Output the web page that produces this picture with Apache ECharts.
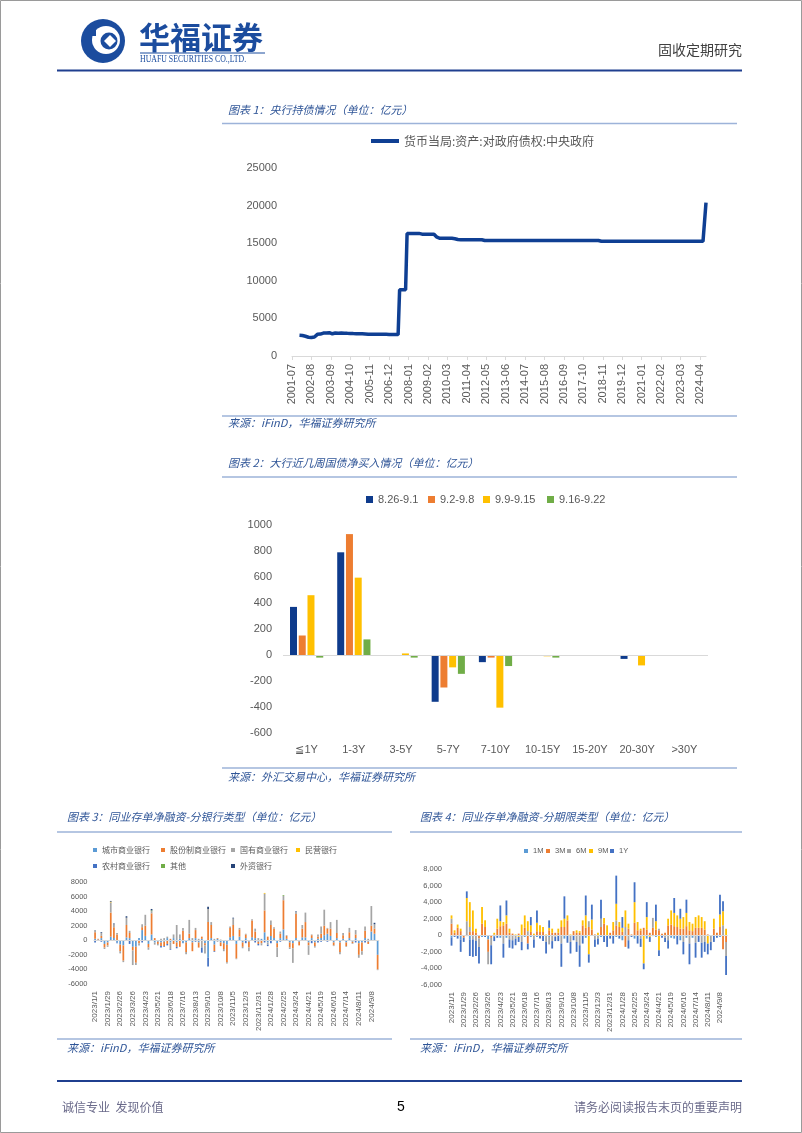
<!DOCTYPE html>
<html><head><meta charset="utf-8">
<script src="https://cdn.jsdelivr.net/npm/echarts@6/dist/echarts.min.js"></script>
<style>html,body{margin:0;padding:0;background:#fff}#page{width:802px;height:1133px}</style>
</head><body><div id="page"></div>
<script>
// ---------- Chart 1: central bank holdings (monthly, 2001-07 .. 2024-08) ----------
const cbName = '货币当局:资产:对政府债权:中央政府';
const cbHold = [
  null,null,null,null,null,2750,
  2740,2720,2680,2620,2560,2500,2450,2460,2480,2520,2700,2880,
  2900,2920,2950,3050,3060,3060,3080,3100,3050,2950,2980,3050,
  3050,3040,3020,3050,3040,3030,3020,3010,3000,3000,2990,2980,
  2980,2970,2970,2960,2950,2950,2940,2930,2920,2900,2900,2890,
  2890,2890,2880,2880,2880,2880,2880,2880,2880,2880,2870,2870,
  2870,2860,2850,2850,2850,2850,8800,8800,8800,8800,8800,16300,
  16300,16300,16300,16300,16300,16300,16300,16300,16200,16200,16200,16200,
  16200,16200,16200,16200,16200,16200,16000,15800,15700,15650,15650,15650,
  15650,15650,15650,15650,15650,15650,15650,15600,15550,15500,15450,15450,
  15450,15450,15450,15450,15450,15450,15450,15450,15450,15450,15450,15450,
  15450,15450,15400,15350,15350,15350,15350,15350,15350,15350,15350,15350,
  15350,15350,15350,15350,15350,15350,15350,15350,15350,15350,15350,15350,
  15350,15350,15350,15350,15350,15350,15350,15350,15350,15350,15350,15350,
  15350,15350,15350,15350,15350,15350,15350,15350,15350,15350,15350,15350,
  15350,15350,15350,15350,15350,15350,15350,15350,15350,15350,15350,15350,
  15350,15350,15350,15350,15350,15350,15350,15350,15350,15350,15350,15350,
  15350,15350,15350,15350,15350,15350,15350,15350,15250,15250,15250,15250,
  15250,15250,15250,15250,15250,15250,15250,15250,15250,15250,15250,15250,
  15250,15250,15250,15250,15250,15250,15250,15250,15250,15250,15250,15250,
  15250,15250,15250,15250,15250,15250,15250,15250,15250,15250,15250,15250,
  15250,15250,15250,15250,15250,15250,15250,15250,15250,15250,15250,15250,
  15250,15250,15250,15250,15250,15250,15250,15250,15250,15250,15250,15250,
  15250,15250,15250,15250,15250,15250,15250,20400
];
const months = [];
for (let y = 2001, m = 7; months.length < cbHold.length; m++) {
  if (m > 12) { m = 1; y++; }
  months.push(y + '-' + String(m).padStart(2, '0'));
}

// ---------- Chart 2: big banks weekly net buying by tenor ----------
const tenors = ['≦1Y','1-3Y','3-5Y','5-7Y','7-10Y','10-15Y','15-20Y','20-30Y','>30Y'];
const weekNames = ['8.26-9.1','9.2-9.8','9.9-9.15','9.16-9.22'];
const wk1 = [370, 790, -3, -360, -55, 0, 0, -30, 0];
const wk2 = [150, 930, -5, -250, -20, 0, -5, 0, 0];
const wk3 = [460, 595, 12, -95, -405, -10, 0, -80, 0];
const wk4 = [-20, 120, -20, -145, -85, -20, 0, 0, 0];

// ---------- weekly categories 2023/1/1 .. 2024/9/22 ----------
const weeks = [];
for (let d = new Date(2023, 0, 1); weeks.length < 91; d.setDate(d.getDate() + 7)) {
  weeks.push(d.getFullYear() + '/' + (d.getMonth() + 1) + '/' + d.getDate());
}

// ---------- Chart 3: NCD net financing by bank type ----------
const bankNames = ['城市商业银行','股份制商业银行','国有商业银行','民营银行','农村商业银行','其他','外资银行'];
const csBank = [200,100,300,-500,-300,500,300,-300,-600,-700,
  400,300,-900,-900,300,1400,600,-500,800,-300,
  -200,-300,-200,300,-300,300,-300,200,-400,-300,
  300,-300,300,-300,200,-400,-2400,300,-600,200,
  -300,-400,-600,400,600,-500,500,-300,300,-200,
  400,300,-200,200,1100,-300,600,300,-400,300,
  1500,200,-300,-400,300,-200,400,400,-300,300,
  -300,200,300,700,900,600,-300,300,-300,200,
  -300,300,-200,300,-400,-300,300,-200,1200,900,
  -2000];
const gfBank = [900,100,300,-500,-400,3300,1500,800,-900,-2100,
  1700,700,-500,-2200,-400,400,1400,-500,2900,300,
  -300,-500,-600,-500,200,-500,-600,-900,1300,-1300,
  600,-1200,1100,-700,300,-300,2500,1800,-900,100,
  -500,-800,-2400,1300,1500,-2000,1000,-600,500,-800,
  2300,900,-300,-400,3000,500,1500,1300,-600,600,
  4000,400,-700,-700,3300,-500,1200,2100,-400,400,
  -500,300,600,1300,700,1000,-400,700,-1300,500,
  -500,800,-200,500,-1600,-1200,1000,-300,800,700,
  -2000];
const gyBank = [300,-100,400,-200,-200,1400,400,200,-300,-200,
  1000,300,-2000,-300,-300,400,1500,-300,300,-300,
  -200,200,300,200,-900,500,2100,600,400,-300,
  1900,300,300,200,-1000,-1100,1800,400,200,-200,
  100,-300,-200,200,900,-100,200,-200,100,-500,
  200,400,300,-300,2300,-300,600,200,-1300,300,
  600,100,-200,-2000,300,0,500,1300,-1300,100,
  -200,300,1000,2200,100,900,-100,1800,-300,300,
  -100,600,-100,600,-400,-500,600,200,2700,600,
  -100];
const msBank = [0,0,0,0,0,100,0,0,0,0,
  0,0,0,0,0,0,0,0,0,0,
  0,0,0,0,0,0,0,0,0,0,
  0,0,0,0,0,0,0,0,0,0,
  0,0,0,0,0,0,0,0,0,0,
  0,0,0,0,100,0,0,0,0,0,
  0,0,0,0,0,0,0,0,0,0,
  0,0,0,0,0,0,0,0,0,0,
  0,0,0,0,0,0,0,0,0,0,
  0];
const ncBank = [-300,0,-200,0,0,0,-100,-100,0,0,
  0,-500,0,0,0,-300,0,0,0,0,
  0,-200,-100,-200,-100,0,-200,0,0,0,
  0,0,-200,0,-700,0,-1200,0,-100,0,
  0,0,0,0,0,0,0,0,-400,0,
  0,-300,-200,0,-300,-200,-400,0,0,-200,
  0,0,0,0,0,0,0,0,0,-400,
  0,-300,-200,0,-200,0,0,0,0,0,
  0,0,0,-300,0,0,-300,0,0,0,
  0];
const qtBank = [0,0,0,0,0,0,0,0,0,0,
  0,0,0,0,0,0,0,0,100,0,
  0,0,0,0,0,0,0,0,0,0,
  0,0,0,0,0,0,0,0,0,0,
  0,0,0,0,0,0,0,0,0,0,
  0,0,0,0,0,0,0,0,0,0,
  100,0,0,0,0,0,0,0,0,0,
  0,0,0,0,0,0,0,0,0,0,
  0,0,0,0,0,0,0,0,0,0,
  0];
const wzBank = [0,0,100,0,0,100,100,0,0,0,
  200,0,0,0,0,0,0,0,200,0,
  0,0,0,0,0,0,0,0,0,0,
  0,0,0,0,0,0,300,0,0,0,
  0,0,0,0,100,0,0,0,0,0,
  0,0,0,0,0,0,0,0,0,0,
  0,0,0,0,100,0,0,0,0,0,
  0,0,0,0,0,0,0,0,0,0,
  0,0,0,0,0,0,0,0,0,200,
  0];

// ---------- Chart 4: NCD net financing by tenor ----------
const termNames = ['1M','3M','6M','9M','1Y'];
const t1M = [-250,0,0,-500,0,-100,-500,0,0,0,
  -200,0,-500,0,-200,0,-300,0,-300,0,
  0,0,0,0,-200,0,-200,0,-200,0,
  0,0,-200,0,0,0,0,-400,0,0,
  0,0,0,0,-300,0,0,0,0,-200,
  0,0,0,0,-200,0,-600,0,0,0,
  -400,0,0,0,-400,0,-100,-200,0,0,
  0,0,-300,-400,0,-600,0,-300,0,-300,
  0,0,0,0,0,0,0,0,-200,0,
  0];
const t3M = [1400,300,900,500,-300,0,400,500,300,-400,
  1400,1000,-1500,-300,100,800,1100,1200,1400,300,
  200,0,200,0,900,-1000,400,0,500,400,
  400,0,600,300,300,300,1000,1000,1800,0,
  500,300,300,1200,900,1000,700,100,0,1000,
  1400,0,300,600,1200,1000,400,-1400,800,100,
  1500,600,600,900,700,300,900,700,600,200,
  300,1200,1300,1100,1000,800,800,1100,600,500,
  900,900,900,700,100,0,800,300,1000,-1700,
  -800];
const t6M = [600,0,0,0,0,1700,600,-500,-700,-1000,
  0,0,-1500,-900,0,0,0,-1000,0,-500,
  -600,-400,0,-800,0,500,0,-500,0,0,
  0,-800,-900,-700,-200,0,-1000,0,0,-800,
  0,-800,-1200,0,0,700,0,-500,-400,1000,
  0,0,0,0,600,0,0,1000,-600,0,
  0,0,-400,0,0,0,1200,0,200,0,
  -300,-600,0,0,0,0,-800,0,-1000,0,
  -900,0,-900,-800,0,-800,0,0,0,1200,
  -1700];
const t9M = [400,300,400,300,0,2800,3000,2500,500,0,
  2000,800,0,0,200,1200,600,400,1000,500,
  0,100,-200,1300,1500,1200,800,200,1000,800,
  600,100,300,500,0,500,800,1000,600,100,
  0,300,200,600,1500,-2300,1200,0,300,0,
  700,1200,0,1000,2000,600,500,2000,600,0,
  2500,1000,200,-3400,1500,-200,0,1000,-1800,0,
  0,800,1700,1600,1400,1200,1400,1600,1000,900,
  1300,1500,1300,1000,-1000,0,1200,0,1500,1700,
  800];
const t1Y = [-1000,-200,-400,-1500,-500,800,-2000,-2100,-1800,-2000,
  0,-200,0,-2300,-500,-300,1900,-1700,1800,-1000,
  -1000,-800,-600,-1000,0,-700,1000,-1000,1500,-400,
  -700,-1400,900,-900,-500,-700,-2800,2700,-900,-1400,
  -600,-1200,-2600,-1000,2400,-1000,1800,-900,-700,2300,
  -800,-1400,-400,-1000,3400,-400,1300,0,-1000,-200,
  2400,-1000,-1000,-700,1800,-600,0,2000,-700,-300,
  -500,-1000,0,1800,-1100,1200,-1500,1600,-2500,0,
  -1800,-800,-1800,-1200,-1300,-1000,-800,-300,2400,1200,
  -2300];

// ---------- styling ----------
const NUM = '"Liberation Sans", Arial, sans-serif';
const CJK = '"Noto Sans CJK SC", sans-serif';
const GREY = '#595959';
const TITLE_BLUE = '#2F5597';
const SEC_LINE = '#9DB3D9';
const NAVY = '#1F3F8F';
const plain = v => String(v);
const commas = v => (v < 0 ? '-' : '') + String(Math.abs(v)).replace(/\B(?=(\d{3})+(?!\d))/g, ',');

function hline(x1, x2, y, color, w) {
  return { type: 'line', silent: true, shape: { x1: x1, y1: y, x2: x2, y2: y }, style: { stroke: color, lineWidth: w } };
}
function txt(t, x, y, font, fill, align, extra) {
  return Object.assign({ type: 'text', silent: true, style: { text: t, x: x, y: y, font: font, fill: fill, align: align || 'left', verticalAlign: 'middle' } }, extra || {});
}
function leg(name, left, top, fs, iw, ih, ff) {
  return { data: [name], left: left, top: top, icon: 'rect', itemWidth: iw, itemHeight: ih, padding: 0, itemGap: 0,
    selectedMode: false, textStyle: { fontSize: fs, color: GREY, fontFamily: ff || CJK } };
}
const zeroLine = { silent: true, symbol: ['none', 'none'], label: { show: false },
  lineStyle: { color: '#D9D9D9', width: 1, type: 'solid' }, data: [{ yAxis: 0 }], animation: false };

const bankColors = ['#5B9BD5', '#ED7D31', '#A5A5A5', '#FFC000', '#4472C4', '#70AD47', '#264478'];
const bankData = [csBank, gfBank, gyBank, msBank, ncBank, qtBank, wzBank];
const termColors = ['#5B9BD5', '#ED7D31', '#A5A5A5', '#FFC000', '#4472C4'];
const termData = [t1M, t3M, t6M, t9M, t1Y];
const wkColors = ['#0E3B8C', '#ED7D31', '#FFC000', '#70AD47'];
const wkData = [wk1, wk2, wk3, wk4];

const series = [];
series.push({ name: cbName, type: 'line', xAxisIndex: 0, yAxisIndex: 0, data: cbHold, symbol: 'none', showSymbol: false,
  lineStyle: { width: 3.5, color: '#0F3F93' }, itemStyle: { color: '#0F3F93' } });
weekNames.forEach((n, i) => series.push({ name: n, type: 'bar', xAxisIndex: 1, yAxisIndex: 1, data: wkData[i],
  barWidth: 7, barGap: '25%', itemStyle: { color: wkColors[i] }, markLine: i === 0 ? zeroLine : undefined }));
bankNames.forEach((n, i) => series.push({ name: n, type: 'bar', stack: 'bank', xAxisIndex: 2, yAxisIndex: 2, data: bankData[i],
  barCategoryGap: '45%', itemStyle: { color: bankColors[i] }, markLine: i === 0 ? zeroLine : undefined }));
termNames.forEach((n, i) => series.push({ name: n, type: 'bar', stack: 'term', xAxisIndex: 3, yAxisIndex: 3, data: termData[i],
  barCategoryGap: '40%', itemStyle: { color: termColors[i] }, markLine: i === 0 ? zeroLine : undefined }));

const smallX = (gi, fs) => ({ gridIndex: gi, type: 'category', data: weeks, axisLine: { show: false }, axisTick: { show: false },
  axisLabel: { interval: 3, rotate: 90, fontSize: fs, color: GREY, margin: 7, fontFamily: NUM } });

const option = {
  animation: false,
  backgroundColor: '#ffffff',
  grid: [
    { left: 292, right: 96, top: 168, bottom: 777 },
    { left: 283, right: 94, top: 525, bottom: 400 },
    { left: 93.5, right: 422.8, top: 882, bottom: 149 },
    { left: 450, right: 74.4, top: 869, bottom: 148 }
  ],
  xAxis: [
    { gridIndex: 0, type: 'category', data: months, boundaryGap: false,
      axisLine: { lineStyle: { color: '#D9D9D9' } },
      axisTick: { show: true, interval: 12, length: 4, lineStyle: { color: '#D9D9D9' } },
      axisLabel: { interval: 12, rotate: 90, fontSize: 11, color: GREY, margin: 8, fontFamily: NUM } },
    { gridIndex: 1, type: 'category', data: tenors, axisLine: { show: false }, axisTick: { show: false },
      axisLabel: { fontSize: 11, color: GREY, margin: 11, fontFamily: NUM } },
    smallX(2, 8), smallX(3, 8)
  ],
  yAxis: [
    { gridIndex: 0, type: 'value', min: 0, max: 25000, interval: 5000, splitLine: { show: false },
      axisLine: { show: false }, axisTick: { show: false },
      axisLabel: { fontSize: 11, color: GREY, margin: 15, fontFamily: NUM, formatter: plain } },
    { gridIndex: 1, type: 'value', min: -600, max: 1000, interval: 200, splitLine: { show: false },
      axisLine: { show: false }, axisTick: { show: false },
      axisLabel: { fontSize: 11, color: GREY, margin: 11, fontFamily: NUM, formatter: plain } },
    { gridIndex: 2, type: 'value', min: -6000, max: 8000, interval: 2000, splitLine: { show: false },
      axisLine: { show: false }, axisTick: { show: false },
      axisLabel: { fontSize: 7.5, color: GREY, margin: 6, fontFamily: NUM, formatter: plain } },
    { gridIndex: 3, type: 'value', min: -6000, max: 8000, interval: 2000, splitLine: { show: false },
      axisLine: { show: false }, axisTick: { show: false },
      axisLabel: { fontSize: 7.5, color: GREY, margin: 8, fontFamily: NUM, formatter: commas } }
  ],
  legend: [
    { data: [cbName], left: 371, top: 135, icon: 'rect', itemWidth: 28, itemHeight: 4, padding: 0, selectedMode: false,
      textStyle: { fontSize: 12, color: GREY, fontFamily: CJK } },
    leg(weekNames[0], 366, 494, 11, 7, 7, NUM),
    leg(weekNames[1], 428, 494, 11, 7, 7, NUM),
    leg(weekNames[2], 483, 494, 11, 7, 7, NUM),
    leg(weekNames[3], 547, 494, 11, 7, 7, NUM),
    leg(bankNames[0], 93, 846, 8, 4, 4),
    leg(bankNames[1], 161, 846, 8, 4, 4),
    leg(bankNames[2], 231, 846, 8, 4, 4),
    leg(bankNames[3], 296, 846, 8, 4, 4),
    leg(bankNames[4], 93, 862, 8, 4, 4),
    leg(bankNames[5], 161, 862, 8, 4, 4),
    leg(bankNames[6], 231, 862, 8, 4, 4),
    leg(termNames[0], 524, 847, 7.5, 4, 4, NUM),
    leg(termNames[1], 546, 847, 7.5, 4, 4, NUM),
    leg(termNames[2], 567, 847, 7.5, 4, 4, NUM),
    leg(termNames[3], 589, 847, 7.5, 4, 4, NUM),
    leg(termNames[4], 610, 847, 7.5, 4, 4, NUM)
  ],
  series: series,
  graphic: [
    // page frame
    { type: 'rect', silent: true, shape: { x: 0.5, y: 0.5, width: 801, height: 1132 }, style: { fill: 'none', stroke: '#9a9a9a', lineWidth: 1 } },
    // logo
    { type: 'circle', silent: true, shape: { cx: 103, cy: 41, r: 22 }, style: { fill: '#1B4C9E' } },
    { type: 'circle', silent: true, shape: { cx: 106, cy: 40, r: 14 }, style: { fill: '#ffffff' } },
    { type: 'circle', silent: true, shape: { cx: 109, cy: 41, r: 8.5 }, style: { fill: '#1B4C9E' } },
    { type: 'polygon', silent: true, shape: { points: [[104, 41], [110, 35], [116, 41], [110, 47]] }, style: { fill: '#ffffff' } },
    { type: 'rect', silent: true, shape: { x: 84, y: 30, width: 12, height: 6 }, style: { fill: '#1B4C9E' } },
    txt('华福证券', 139, 37, 'bold 31px "Noto Sans CJK SC"', '#1B4C9E'),
    hline(140, 265, 53, '#1B4C9E', 1),
    txt('HUAFU SECURITIES CO.,LTD.', 140, 59.5, '10px "Liberation Serif"', '#1B4C9E', 'left', { scaleX: 0.78, originX: 140, originY: 59.5 }),
    txt('固收定期研究', 742, 50, '14px "Noto Sans CJK SC"', '#404040', 'right'),
    hline(57, 742, 70.5, NAVY, 2),
    // chart 1 frame texts
    txt('图表 1：央行持债情况（单位：亿元）', 228, 110, 'italic 11px "Noto Sans CJK SC"', TITLE_BLUE),
    hline(222, 737, 123.5, SEC_LINE, 1.5),
    hline(222, 737, 416, SEC_LINE, 1.5),
    txt('来源：iFinD，华福证券研究所', 228, 423, 'italic 11px "Noto Sans CJK SC"', TITLE_BLUE),
    // chart 2
    txt('图表 2：大行近几周国债净买入情况（单位：亿元）', 228, 463, 'italic 11px "Noto Sans CJK SC"', TITLE_BLUE),
    hline(222, 737, 477, SEC_LINE, 1.5),
    hline(222, 737, 768, SEC_LINE, 1.5),
    txt('来源：外汇交易中心，华福证券研究所', 228, 777, 'italic 11px "Noto Sans CJK SC"', TITLE_BLUE),
    // chart 3
    txt('图表 3：同业存单净融资-分银行类型（单位：亿元）', 67, 817, 'italic 11px "Noto Sans CJK SC"', TITLE_BLUE),
    hline(57, 392, 832, SEC_LINE, 1.5),
    hline(57, 392, 1039, SEC_LINE, 1.5),
    txt('来源：iFinD，华福证券研究所', 67, 1048, 'italic 11px "Noto Sans CJK SC"', TITLE_BLUE),
    // chart 4
    txt('图表 4：同业存单净融资-分期限类型（单位：亿元）', 420, 817, 'italic 11px "Noto Sans CJK SC"', TITLE_BLUE),
    hline(410, 742, 832, SEC_LINE, 1.5),
    hline(410, 742, 1039, SEC_LINE, 1.5),
    txt('来源：iFinD，华福证券研究所', 420, 1048, 'italic 11px "Noto Sans CJK SC"', TITLE_BLUE),
    // footer
    hline(57, 742, 1081, NAVY, 2),
    txt('诚信专业  发现价值', 62, 1107, '12px "Noto Sans CJK SC"', '#6A6A8A'),
    txt('5', 401, 1107, '14px "Liberation Sans"', '#000000', 'center'),
    txt('请务必阅读报告末页的重要声明', 742, 1107, '12px "Noto Sans CJK SC"', '#6A6A8A', 'right')
  ]
};
const chart = echarts.init(document.getElementById('page'), null, { renderer: 'canvas', width: 802, height: 1133 });
chart.setOption(option);
</script>
</body></html>
